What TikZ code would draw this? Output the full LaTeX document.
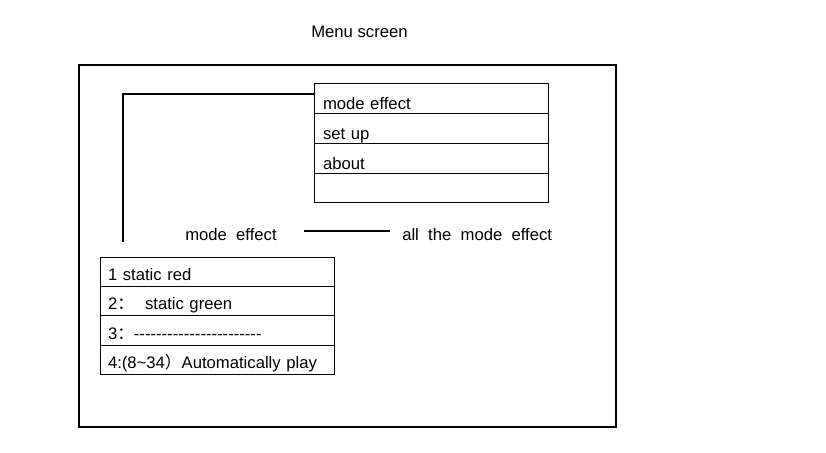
\documentclass[tikz,border=0pt]{standalone}
\usepackage{fontspec}
\setmainfont{Liberation Sans}[Ligatures=TeXOff]
\newfontfamily\cjk{Noto Sans CJK SC}
\usetikzlibrary{calc,positioning}
\tikzset{
	x=0.75pt, y=-0.75pt,
	label text/.style={anchor=base west, inner sep=0pt, font=\fontsize{12.5}{14}\selectfont},
	link/.style={line width=1.5pt},
	menu row/.style={draw, line width=0.75pt, outer sep=0pt, anchor=north west, minimum width=175.5pt,
		inner ysep=0pt, align=left, font=\fontsize{12.5}{14}\selectfont},
	top row/.style={menu row, inner xsep=6.75pt, text width=162pt, text height=19.3pt, text depth=3pt},
	mode row/.style={menu row, inner xsep=6pt, text width=163.5pt, text height=17.4pt, text depth=4.7pt},
}
\begin{document}
\begin{tikzpicture}
		%%%%% START %%%%%
		\useasboundingbox (0,0) rectangle (826,453);
		
		\node[label text, anchor=base] (title) at (359.5,38) {Menu screen};
		\draw[line width=1.5pt] (79,65) rectangle (616,427);
		
		%% main menu
		\node[top row] (main1) at (314,84) {mode effect};
		\node[top row, below=0pt of main1] (main2) {set up};
		\node[top row, below=0pt of main2] (main3) {about};
		\node[top row, below=0pt of main3] (main4) {};
		
		\coordinate (drop) at (123,242);
		\draw[link] ($(main1.north west)+(0,10)$) -| (drop);
		
		\node[label text] (modelbl) at (185,240) {mode~ effect};
		\node[label text] (alllbl) at (402,240) {all~ the~ mode~ effect};
		\coordinate (lineA) at (304,231);
		\coordinate (lineB) at (390,231);
		\draw[link] (lineA) -- (lineB);
		
		%% mode effect list
		\node[mode row] (mode1) at (100,257) {1 static red};
		\node[mode row, below=0pt of mode1] (mode2) {2{\cjk ：}~ static green};
		\node[mode row, below=0pt of mode2] (mode3) {3{\cjk ：}-----------------------};
		\node[mode row, below=0pt of mode3] (mode4) {4:(8\textasciitilde 34{\cjk ）}Automatically play};
		
		%%%%% END %%%%%
\end{tikzpicture}
\end{document}
